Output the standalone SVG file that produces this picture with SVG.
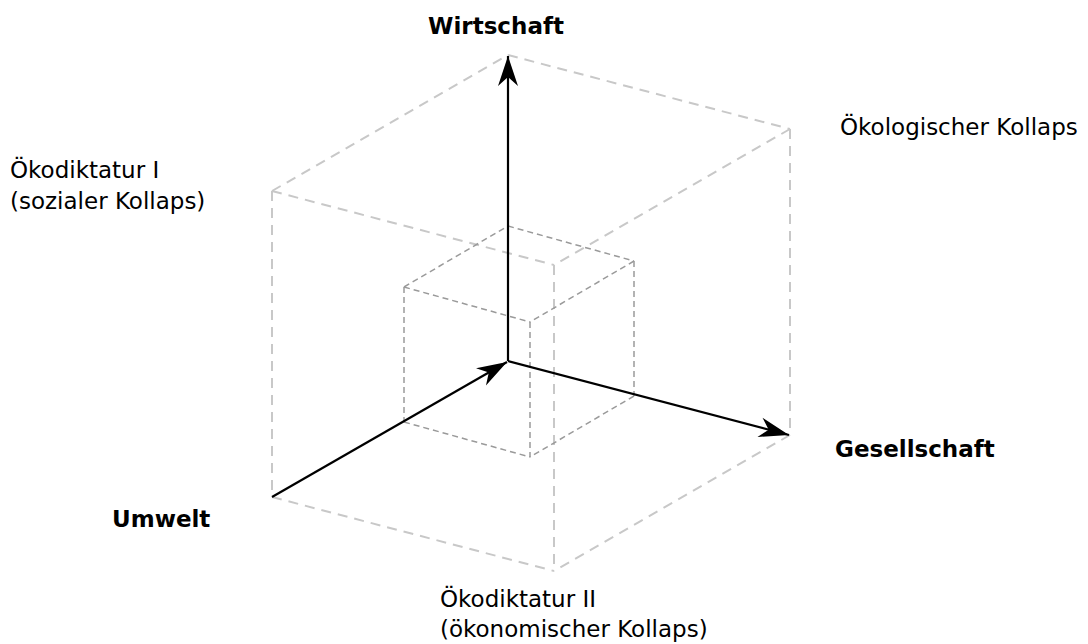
<svg xmlns="http://www.w3.org/2000/svg" width="1088" height="644" viewBox="0 0 1088 644">
  <style>
    .big { stroke: #c8c8c8; stroke-width: 2; stroke-dasharray: 10 7; fill: none; }
    .small { stroke: #9a9a9a; stroke-width: 1.5; stroke-dasharray: 6 4; fill: none; }
    .axis { stroke: #000; stroke-width: 2.2; fill: none; }
    .lbl { font-family: "DejaVu Sans", Verdana, sans-serif; font-size: 23px; fill: #000; }
    .bold { font-weight: bold; }
  </style>
  <defs>
    <marker id="arr" markerUnits="userSpaceOnUse" markerWidth="36" markerHeight="26" viewBox="-32 -13 36 26" refX="0" refY="0" orient="auto">
      <path d="M0,0 L-30,-10 L-21,0 L-30,10 Z" fill="#000"/>
    </marker>
  </defs>

  <g id="outer-cube">
    <line class="big" x1="272" y1="191" x2="508" y2="55"/>
    <line class="big" x1="508" y1="55" x2="790" y2="129"/>
    <line class="big" x1="272" y1="191" x2="554" y2="265"/>
    <line class="big" x1="790" y1="129" x2="554" y2="265"/>
    <line class="big" x1="272" y1="191" x2="272" y2="497"/>
    <line class="big" x1="790" y1="129" x2="790" y2="435"/>
    <line class="big" x1="554" y1="265" x2="554" y2="571"/>
    <line class="big" x1="272" y1="497" x2="554" y2="571"/>
    <line class="big" x1="790" y1="435" x2="554" y2="571"/>
  </g>

  <g id="inner-cube">
    <line class="small" x1="404" y1="287" x2="508" y2="226"/>
    <line class="small" x1="508" y1="226" x2="634" y2="261"/>
    <line class="small" x1="404" y1="287" x2="530" y2="322"/>
    <line class="small" x1="634" y1="261" x2="530" y2="322"/>
    <line class="small" x1="404" y1="287" x2="404" y2="422"/>
    <line class="small" x1="634" y1="261" x2="634" y2="396"/>
    <line class="small" x1="530" y1="322" x2="530" y2="457"/>
    <line class="small" x1="404" y1="422" x2="530" y2="457"/>
    <line class="small" x1="634" y1="396" x2="530" y2="457"/>
  </g>

  <g id="connectors">
    <path class="axis" d="M508,361 L508,56" marker-end="url(#arr)"/>
    <path class="axis" d="M272,497 L507,362" marker-end="url(#arr)"/>
    <path class="axis" d="M508,361 L789,435" marker-end="url(#arr)"/>
  </g>

  <g id="wirtschaft"><text class="lbl bold" x="496" y="34" text-anchor="middle">Wirtschaft</text></g>
  <g id="oekologischer-kollaps"><text class="lbl" x="840" y="135">Ökologischer Kollaps</text></g>
  <g id="oekodiktatur-1">
    <text class="lbl" x="10" y="178">Ökodiktatur I</text>
    <text class="lbl" x="10" y="209">(sozialer Kollaps)</text>
  </g>
  <g id="gesellschaft"><text class="lbl bold" x="835" y="457">Gesellschaft</text></g>
  <g id="umwelt"><text class="lbl bold" x="112" y="527">Umwelt</text></g>
  <g id="oekodiktatur-2">
    <text class="lbl" x="440" y="607">Ökodiktatur II</text>
    <text class="lbl" x="440" y="637">(ökonomischer Kollaps)</text>
  </g>
</svg>
